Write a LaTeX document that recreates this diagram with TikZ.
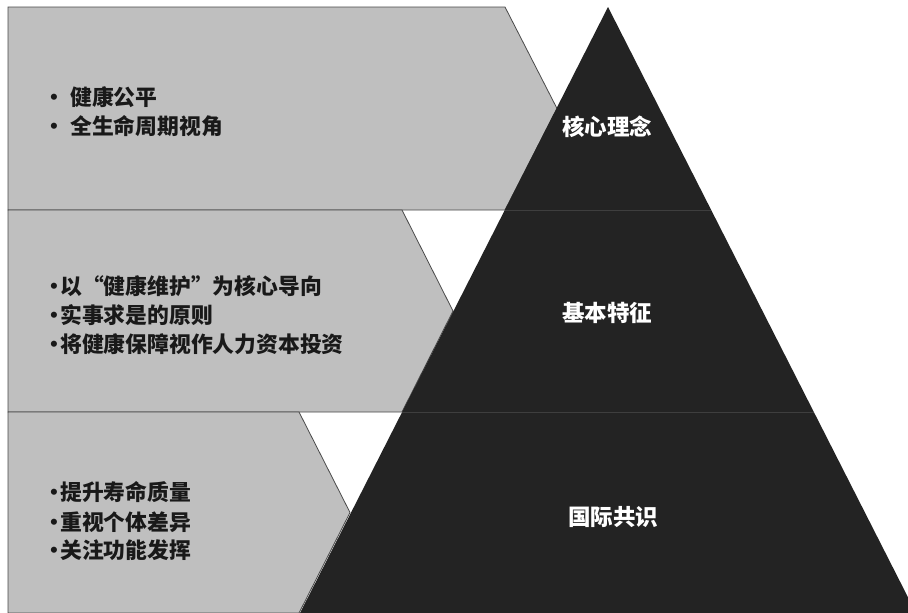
\documentclass[tikz,border=0pt]{standalone}
\usepackage{fontspec}
\newfontfamily\cjk{Noto Sans CJK SC}
\definecolor{panelgray}{HTML}{BFBFBF}
\definecolor{edgegray}{HTML}{4A4A4A}
\definecolor{pyrdark}{HTML}{232323}
\definecolor{pyrline}{HTML}{3E3E3E}
\begin{document}
\begin{tikzpicture}[x=1pt,y=-1pt,
  panel/.style={fill=panelgray,draw=edgegray,line width=0.8pt},
  pyr/.style={fill=pyrdark,draw=none},
  divider/.style={draw=pyrline,line width=0.8pt},
  lbl/.style={text=white,font=\cjk\bfseries\fontsize{22.5}{24}\selectfont,inner sep=0pt,anchor=base},
  item/.style={text=black!90,font=\cjk\bfseries\fontsize{21.8}{24}\selectfont,inner sep=0pt,anchor=base west},
  bul/.style={text=black!90,font=\cjk\bfseries\fontsize{21.8}{24}\selectfont,inner sep=0pt,anchor=base}]
\useasboundingbox (0,0) rectangle (908,613);
\clip (0,0) rectangle (908,613);
\fill[white] (0,0) rectangle (908,613);
% grey chevron panels
\path[panel] (8,7) -- (505,7) -- (557,108.5) -- (505,210) -- (8,210) -- cycle;
\path[panel] (8,210) -- (402,210) -- (453,311) -- (402,412) -- (8,412) -- cycle;
\path[panel] (8,412) -- (299,412) -- (350,512.5) -- (299,613) -- (8,613) -- (8,620) -- cycle;
% pyramid
\path[pyr] (608,7) -- (916,613) -- (300,613) -- cycle;
\draw[divider] (504.8,210) -- (711.2,210);
\draw[divider] (402.1,412) -- (813.9,412);
% pyramid labels
\node[lbl] (l1) at (607,135.5) {核心理念};
\node[lbl] (l2) at (607,321.5) {基本特征};
\node[lbl] (l3) at (613,525.5) {国际共识};
% panel 1 items
\node[bul] (b11) at (54,105.9) {·};
\node[item] (t11) at (70,105.9) {健康公平};
\node[bul] (b12) at (54,134.4) {·};
\node[item] (t12) at (70,134.4) {全生命周期视角};
% panel 2 items
\node[bul] (b21) at (54,294.4) {·};
\node[item] (t21) at (60,294.4) {以“健康维护”为核心导向};
\node[bul] (b22) at (54,323.4) {·};
\node[item] (t22) at (60,323.4) {实事求是的原则};
\node[bul] (b23) at (54,352.4) {·};
\node[item] (t23) at (60,352.4) {将健康保障视作人力资本投资};
% panel 3 items
\node[bul] (b31) at (54,500.9) {·};
\node[item] (t31) at (60,500.9) {提升寿命质量};
\node[bul] (b32) at (54,530.4) {·};
\node[item] (t32) at (60,530.4) {重视个体差异};
\node[bul] (b33) at (54,558.4) {·};
\node[item] (t33) at (60,558.4) {关注功能发挥};
\end{tikzpicture}
\end{document}
